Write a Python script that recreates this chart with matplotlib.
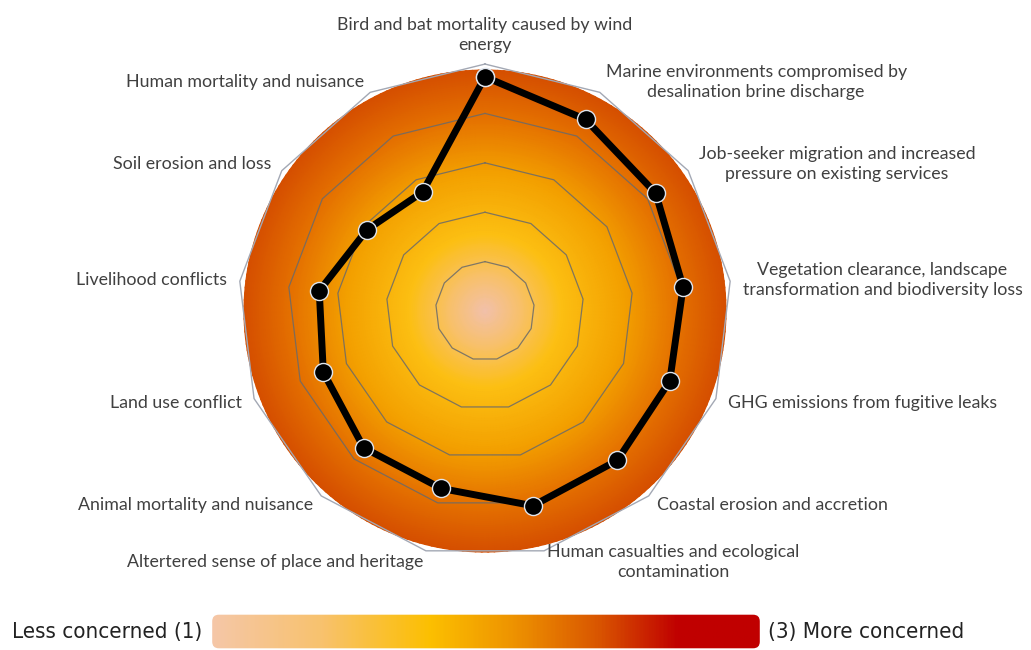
import numpy as np
import matplotlib.pyplot as plt
from matplotlib.colors import LinearSegmentedColormap
from matplotlib.patches import FancyBboxPatch

# kategorier och värden
categories = [
    "Bird and bat mortality caused by wind\nenergy",
    "Marine environments compromised by\ndesalination brine discharge",
    "Job-seeker migration and increased\npressure on existing services",
    "Vegetation clearance, landscape\ntransformation and biodiversity loss",
    "GHG emissions from fugitive leaks",
    "Coastal erosion and accretion",
    "Human casualties and ecological\ncontamination",
    "Altertered sense of place and heritage",
    "Animal mortality and nuisance",
    "Land use conflict",
    "Livelihood conflicts",
    "Soil erosion and loss",
    "Human mortality and nuisance",
]
values = [2.87, 2.69, 2.60, 2.52, 2.50, 2.52, 2.53, 2.35, 2.35, 2.25, 2.19, 1.95, 1.86]
rings = [1.0, 1.5, 2.0, 2.5, 3.0]
r_min, r_max = 0.5, 3.02
circle_r = 2.94

legend_left = "Less concerned (1)"
legend_right = "(3) More concerned"

text_col = "#404040"
circle_cmap = LinearSegmentedColormap.from_list(
    "circle", [(0.0, "#f2c0ac"), (0.15, "#f8c06a"), (0.32, "#fcbf12"),
               (0.58, "#f3a000"), (0.8, "#e57200"), (1.0, "#d54f00")])
bar_cmap = LinearSegmentedColormap.from_list(
    "bar", [(0.0, "#f5c7a8"), (0.2, "#f8c26e"), (0.4, "#fcbf00"),
            (0.55, "#ee9300"), (0.7, "#da5800"), (0.85, "#c00000"), (1.0, "#c00000")])

fig = plt.figure(figsize=(10.31, 6.5), dpi=100)
ax = fig.add_axes([0.2289, 0.1385, 0.483, 0.766], projection="polar")
ax.set_theta_zero_location("N")
ax.set_theta_direction(-1)
ax.set_ylim(r_min, r_max)
ax.patch.set_alpha(0)
ax.spines["polar"].set_visible(False)
ax.grid(False)
ax.set_xticks([])
ax.set_yticks([])

# gradient-cirkeln i bakgrunden
th = np.linspace(0, 2 * np.pi, 240)
rr = np.linspace(r_min, circle_r, 120)
T, R = np.meshgrid(th, rr)
ax.pcolormesh(T, R, R, cmap=circle_cmap, shading="gouraud", zorder=0)

n = len(categories)
theta = np.arange(n) * 2 * np.pi / n
theta_closed = np.append(theta, theta[0])

# polygon-ringar
for r in rings:
    if r == rings[-1]:
        ax.plot(theta_closed, [r] * (n + 1), color="#a3a8b4", lw=1.0, zorder=1)
    else:
        ax.plot(theta_closed, [r] * (n + 1), color="#6a6a6a", lw=0.9, alpha=0.85, zorder=1)

# dataserien
ax.plot(theta_closed, values + values[:1], color="black", lw=5, zorder=3,
        marker="o", markersize=13, markerfacecolor="black",
        markeredgecolor="#dfe5ee", markeredgewidth=1)

# etiketter
for t, lab in zip(theta, categories):
    s, c = np.sin(t), np.cos(t)
    if abs(s) < 0.05:
        ha, va, off = "center", "bottom", (0, 8)
    else:
        ha = "left" if s > 0 else "right"
        va = "center"
        off = (9 * s, 8.5 * c)
    ax.annotate(lab, xy=(t, rings[-1]), xytext=off, textcoords="offset points",
                ha=ha, va=va, multialignment="center", fontsize=12.8, linespacing=1.3,
                family=["Lato", "DejaVu Sans"], color=text_col, zorder=4,
                annotation_clip=False)

# färgskala längst ner
bax = fig.add_axes([210 / 1031, 1 / 650, 552 / 1031, 35 / 650])
img = bax.imshow(np.linspace(0, 1, 400).reshape(1, -1), cmap=bar_cmap,
                 aspect="auto", extent=(0, 1, 0, 1))
clip = FancyBboxPatch((0.004, 0.02), 0.992, 0.96, boxstyle="round,pad=0,rounding_size=0.012",
                      transform=bax.transAxes, facecolor="none", edgecolor="none",
                      mutation_aspect=552 / 35)
bax.add_patch(clip)
img.set_clip_path(clip)
bax.axis("off")

fig.text(12 / 1031, 1 - 632 / 650, legend_left, ha="left", va="center", fontsize=16,
         family="DejaVu Sans", fontstretch="condensed", color="#222222")
fig.text(768 / 1031, 1 - 632 / 650, legend_right, ha="left", va="center", fontsize=16,
         family="DejaVu Sans", fontstretch="condensed", color="#222222")

fig.savefig("out.png", dpi=100)
